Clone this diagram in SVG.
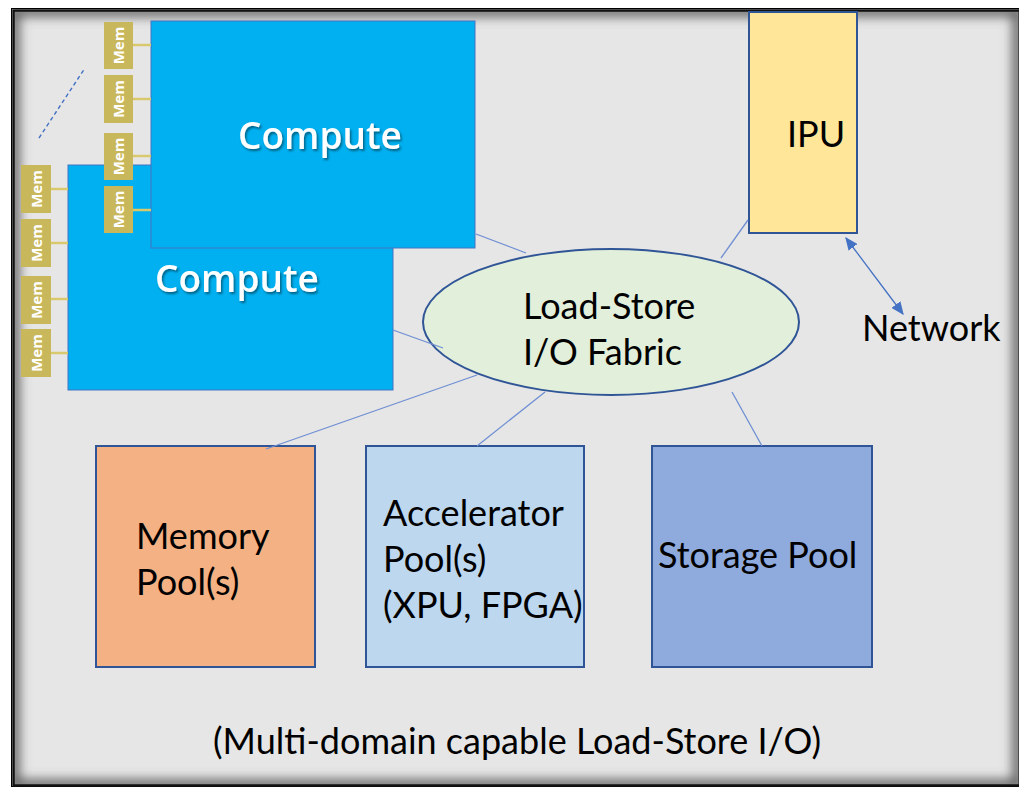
<svg xmlns="http://www.w3.org/2000/svg" width="1019" height="788" viewBox="0 0 1019 788">
  <style>
    .lbl { font-family: "Lato", "Liberation Sans", sans-serif; font-size: 36px; fill: #000; }
    .cmp { fill: #00b0f0; stroke: #4472c4; stroke-width: 1; }
    .cmpTxt { font-family: "Open Sans", "Noto Sans", sans-serif; font-weight: 600; font-size: 37px; fill: #fff; text-anchor: middle; filter: url(#txtShadow); }
    .mem { fill: #c9b75b; }
    .memTxt { font-family: "Open Sans", "Noto Sans", sans-serif; font-weight: 700; font-size: 15px; fill: #fff; text-anchor: middle; }
    .memLink { stroke: #d9c96e; stroke-width: 2.5; }
    .pool { stroke: #2f5597; stroke-width: 2; }
    .link { stroke: #6f8fd3; stroke-width: 1.3; fill: none; }
  </style>
  <defs>
    <filter id="txtShadow" x="-10%" y="-20%" width="130%" height="150%">
      <feDropShadow dx="1.5" dy="2" stdDeviation="1.2" flood-color="#000" flood-opacity="0.45"/>
    </filter>
    <filter id="edgeBlur" x="-5%" y="-5%" width="110%" height="110%">
      <feGaussianBlur stdDeviation="6"/>
    </filter>
    <clipPath id="frameClip">
      <rect x="14" y="11" width="1004" height="774"/>
    </clipPath>
    <marker id="tip" viewBox="0 0 10 10" refX="9" refY="5" markerWidth="13" markerHeight="11" markerUnits="userSpaceOnUse" orient="auto-start-reverse" preserveAspectRatio="none">
      <path d="M0,0 L10,5 L0,10 z" fill="#4472c4"/>
    </marker>
  </defs>

  <!-- page and framed panel -->
  <rect x="0" y="0" width="1019" height="788" fill="#fff"/>
  <rect x="11.5" y="8.5" width="1012" height="778" fill="none" stroke="#000" stroke-width="1"/>
  <rect x="14" y="11" width="1004" height="774" fill="#e6e6e6"/>
  <g clip-path="url(#frameClip)">
    <rect x="14" y="11" width="1004" height="774" fill="none" stroke="#555" stroke-width="10" filter="url(#edgeBlur)"/>
  </g>
  <rect x="13.5" y="10.5" width="1006" height="775" fill="none" stroke="#111" stroke-width="2.5"/>

  <!-- rack dots between compute tiers -->
  <line x1="39" y1="138" x2="85" y2="68" stroke="#4472c4" stroke-width="1.4" stroke-dasharray="4 3"/>

  <!-- rear compute node with its memory -->
  <g id="compute-rear">
    <rect class="cmp" x="68" y="165" width="325" height="225"/>
    <text class="cmpTxt" x="237" y="292">Compute</text>
  </g>
  <g id="mem-rear">
    <line class="memLink" x1="51" y1="189" x2="68" y2="189"/>
    <line class="memLink" x1="51" y1="243" x2="68" y2="243"/>
    <line class="memLink" x1="51" y1="299" x2="68" y2="299"/>
    <line class="memLink" x1="51" y1="353" x2="68" y2="353"/>
    <rect class="mem" x="21" y="165" width="30" height="48"/>
    <rect class="mem" x="21" y="219" width="30" height="48"/>
    <rect class="mem" x="21" y="276" width="30" height="48"/>
    <rect class="mem" x="21" y="329" width="30" height="48"/>
    <text class="memTxt" transform="translate(36,189) rotate(-90)" y="5.5">Mem</text>
    <text class="memTxt" transform="translate(36,243) rotate(-90)" y="5.5">Mem</text>
    <text class="memTxt" transform="translate(36,300) rotate(-90)" y="5.5">Mem</text>
    <text class="memTxt" transform="translate(36,353) rotate(-90)" y="5.5">Mem</text>
  </g>

  <!-- front compute node with its memory -->
  <g id="compute-front">
    <rect class="cmp" x="151" y="21" width="324" height="227"/>
    <text class="cmpTxt" x="320" y="149">Compute</text>
  </g>
  <g id="mem-front">
    <line class="memLink" x1="133" y1="45" x2="151" y2="45"/>
    <line class="memLink" x1="133" y1="99" x2="151" y2="99"/>
    <line class="memLink" x1="133" y1="156" x2="151" y2="156"/>
    <line class="memLink" x1="133" y1="210" x2="151" y2="210"/>
    <rect class="mem" x="104" y="22" width="29" height="47"/>
    <rect class="mem" x="104" y="75" width="29" height="48"/>
    <rect class="mem" x="104" y="133" width="29" height="47"/>
    <rect class="mem" x="104" y="186" width="29" height="47"/>
    <text class="memTxt" transform="translate(118.5,45.5) rotate(-90)" y="5.5">Mem</text>
    <text class="memTxt" transform="translate(118.5,99) rotate(-90)" y="5.5">Mem</text>
    <text class="memTxt" transform="translate(118.5,156.5) rotate(-90)" y="5.5">Mem</text>
    <text class="memTxt" transform="translate(118.5,209.5) rotate(-90)" y="5.5">Mem</text>
  </g>

  <!-- IPU -->
  <g id="ipu">
    <rect x="749" y="12" width="108" height="221" fill="#ffe699" stroke="#2f5597" stroke-width="2"/>
    <text class="lbl" x="787" y="147">IPU</text>
  </g>

  <!-- network endpoint label -->
  <g id="network">
    <text class="lbl" x="862" y="341">Network</text>
  </g>

  <!-- fabric -->
  <g id="fabric">
    <ellipse cx="611" cy="322" rx="188" ry="73" fill="#e2efda" stroke="#2f5597" stroke-width="2"/>
    <text class="lbl" x="523" y="319">Load-Store</text>
    <text class="lbl" x="523" y="365">I/O Fabric</text>
  </g>

  <!-- pools -->
  <g id="memory-pool">
    <rect class="pool" x="96" y="446" width="219" height="221" fill="#f4b183"/>
    <text class="lbl" x="136" y="549">Memory</text>
    <text class="lbl" x="136" y="595">Pool(s)</text>
  </g>
  <g id="accelerator-pool">
    <rect class="pool" x="366" y="446" width="218" height="221" fill="#bdd7ee"/>
    <text class="lbl" x="383" y="526">Accelerator</text>
    <text class="lbl" x="383" y="572">Pool(s)</text>
    <text class="lbl" x="383" y="618">(XPU, FPGA)</text>
  </g>
  <g id="storage-pool">
    <rect class="pool" x="652" y="446" width="220" height="221" fill="#8faadc"/>
    <text class="lbl" x="658" y="568">Storage Pool</text>
  </g>

  <!-- caption -->
  <g id="caption">
    <text class="lbl" x="213" y="754" font-size="33">(Multi-domain capable Load-Store I/O)</text>
  </g>

  <!-- connectors -->
  <g id="connectors">
    <line class="link" x1="476" y1="234" x2="526" y2="253"/>
    <line class="link" x1="393" y1="330" x2="443" y2="348"/>
    <line class="link" x1="477" y1="375" x2="266" y2="449"/>
    <line class="link" x1="545" y1="392" x2="477" y2="446"/>
    <line class="link" x1="732" y1="392" x2="762" y2="446"/>
    <line class="link" x1="748" y1="220" x2="721" y2="258"/>
    <line x1="846" y1="238" x2="903" y2="314" stroke="#4472c4" stroke-width="1.3" marker-start="url(#tip)" marker-end="url(#tip)"/>
  </g>
</svg>
